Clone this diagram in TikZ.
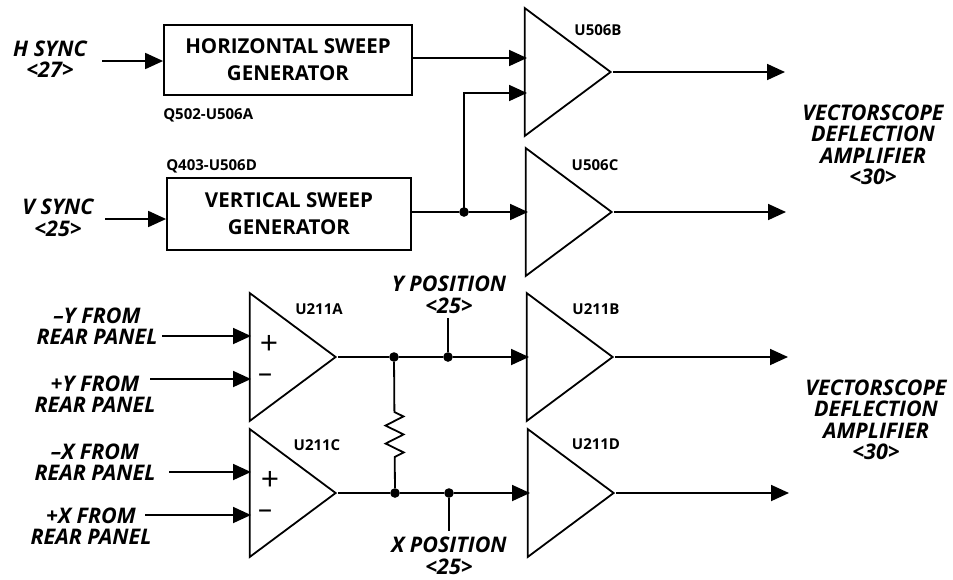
\documentclass[tikz,border=0pt]{standalone}
\usepackage{fontspec}
\setmainfont{Open Sans}
\usepackage{tikz}
\usetikzlibrary{positioning, calc, shapes.geometric, arrows.meta}
\usetikzlibrary{decorations.pathmorphing}

\begin{document}
\begin{tikzpicture}[
        x=1pt, y=-1pt,
        node distance=6pt,
        wire/.style={line width=1.8pt},
        sig/.style={wire, -{Triangle[length=18pt, width=16pt]}},
        dot/.style={circle, fill=black, inner sep=3.4pt},
        genbox/.style={draw, line width=1.8pt, font=\fontsize{20.5}{27}\selectfont\bfseries, align=center},
        amp/.style={draw, line width=1.8pt, isosceles triangle, isosceles triangle stretches,
            minimum width=128pt, minimum height=86pt, inner sep=0pt, anchor=apex},
        partlab/.style={font=\fontsize{15}{17}\selectfont\bfseries, inner sep=0pt},
        siglab/.style={font=\fontsize{21.5}{21.5}\selectfont\bfseries\itshape, align=center, inner sep=0pt},
        pluslab/.style={font=\fontsize{32}{32}\selectfont, inner sep=0pt},
        minuslab/.style={font=\fontsize{28}{28}\selectfont, inner sep=0pt},
    ]
    \useasboundingbox (0,0) rectangle (953,579);

    % sweep generators
    \node[genbox, minimum width=248pt, minimum height=70pt] (hgen) at (288,60)
        {HORIZONTAL SWEEP\\GENERATOR};
    \node[genbox, minimum width=244pt, minimum height=72pt] (vgen) at (289,214)
        {VERTICAL SWEEP\\GENERATOR};
    \node[partlab, below=13pt of hgen.south west, anchor=north west] (qhgen) {Q502-U506A};
    \node[partlab, above=4pt of vgen.north west, anchor=south west] (qvgen) {Q403-U506D};

    % amplifiers
    \node[amp] (ampa) at (338,357) {};
    \node[amp] (ampc) at (338,493) {};
    \node[amp] (ubb) at (613,72) {};
    \node[amp] (ubc) at (614,212) {};
    \node[amp] (uab) at (615,357) {};
    \node[amp] (uad) at (616,493) {};

    \node[partlab] (lubb) at (598,30) {U506B};
    \node[partlab] (lubc) at (595,165) {U506C};
    \node[partlab] (luaa) at (319,309) {U211A};
    \node[partlab] (luab) at (596,309) {U211B};
    \node[partlab] (luac) at (317,445) {U211C};
    \node[partlab] (luad) at (596,444) {U211D};

    \node[pluslab] (pa) at (269,345) {+};
    \node[minuslab] (ma) at (265,378) {--};
    \node[pluslab] (pc) at (270,481) {+};
    \node[minuslab] (mc) at (265,514) {--};

    % signal names
    \node[siglab] (hsync) at (50,59) {H SYNC\\<27>};
    \node[siglab] (vsync) at (58,218) {V SYNC\\<25>};
    \node[siglab] (ymin) at (97,326) {--Y FROM\\REAR PANEL};
    \node[siglab] (ypls) at (95,394) {+Y FROM\\REAR PANEL};
    \node[siglab] (xmin) at (95,462) {--X FROM\\REAR PANEL};
    \node[siglab] (xpls) at (91,526) {+X FROM\\REAR PANEL};
    \node[siglab] (ypos) at (449,295) {Y POSITION\\<25>};
    \node[siglab] (xpos) at (449,556) {X POSITION\\<25>};
    \node[siglab] (vda) at (873,145) {VECTORSCOPE\\DEFLECTION\\AMPLIFIER\\<30>};
    \node[siglab] (vdb) at (876,420) {VECTORSCOPE\\DEFLECTION\\AMPLIFIER\\<30>};

    % junctions
    \node[dot] (jv) at (464,212) {};
    \node[dot] (jya) at (394,357) {};
    \node[dot] (jyb) at (448,357) {};
    \node[dot] (jxa) at (395,493) {};
    \node[dot] (jxb) at (449,493) {};

    % free ends
    \coordinate (hin) at (102,61);
    \coordinate (vin) at (105,219);
    \coordinate (ubbh) at (527,58);
    \coordinate (ubbv) at (527,93);
    \coordinate (ubcin) at (528,212);
    \coordinate (uabin) at (529,357);
    \coordinate (uadin) at (530,493);
    \coordinate (ytick) at (448,318);
    \coordinate (xtick) at (449,531);
    \coordinate (yminin) at (162,336);
    \coordinate (yplsin) at (150,379);
    \coordinate (xminin) at (169,472);
    \coordinate (xplsin) at (145,515);
    \coordinate (ampaleft) at (251,357);
    \coordinate (ubbout) at (785,72);
    \coordinate (ubcout) at (786,212);
    \coordinate (uabout) at (788,357);
    \coordinate (uadout) at (789,493);

    \draw[sig] (hin) -- (hin -| hgen.west);
    \draw[sig] (vin) -- (vin -| vgen.west);
    \draw[sig] (hgen.east |- ubbh) -- (ubbh);
    \draw[wire] (vgen.east |- jv) -- (jv);
    \draw[sig] (jv) -- (ubcin);
    \draw[sig] (jv.center) |- (ubbv);

    \draw[sig] (yminin) -- (yminin -| ampaleft);
    \draw[sig] (yplsin) -- (yplsin -| ampaleft);
    \draw[sig] (xminin) -- (xminin -| ampaleft);
    \draw[sig] (xplsin) -- (xplsin -| ampaleft);

    \draw[wire] (ampa.apex) -- (jya);
    \draw[wire] (jya) -- (jyb);
    \draw[sig] (jyb) -- (uabin);
    \draw[wire] (ampc.apex) -- (jxa);
    \draw[wire] (jxa) -- (jxb);
    \draw[sig] (jxb) -- (uadin);
    \draw[wire] (ytick) -- (jyb);
    \draw[wire] (xtick) -- (jxb);

    % coupling resistor
    \draw[wire, decoration={zigzag, segment length=18pt, amplitude=9pt, pre length=50pt, post length=30pt},
        decorate] (jya) -- (jxa);

    % outputs
    \draw[sig] (ubb.apex) -- (ubbout);
    \draw[sig] (ubc.apex) -- (ubcout);
    \draw[sig] (uab.apex) -- (uabout);
    \draw[sig] (uad.apex) -- (uadout);

\end{tikzpicture}
\end{document}
